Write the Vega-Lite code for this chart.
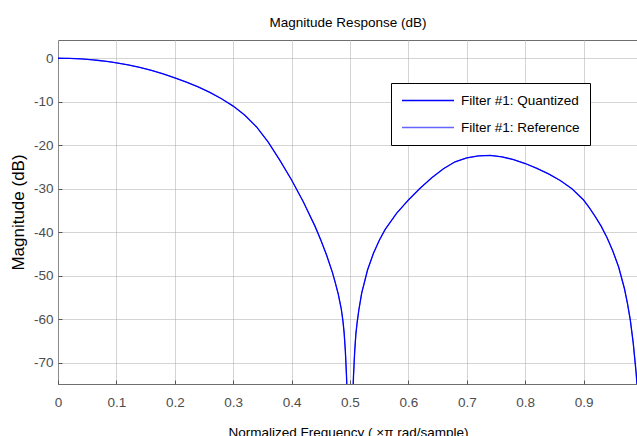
{
  "$schema": "https://vega.github.io/schema/vega-lite/v6.json",
  "width": 580,
  "height": 344,
  "autosize": "none",
  "padding": {"left": 58, "top": 40, "right": 0, "bottom": 52},
  "background": "white",
  "title": {"text": "Magnitude Response (dB)", "font": "Liberation Sans", "fontSize": 13.5, "fontWeight": "normal", "color": "#000000", "offset": 0, "baseline": "alphabetic", "anchor": "middle", "frame": "group"},
  "data": {"values": [
    {"f": 0, "db": 0}, {"f": 0.01, "db": -0.01}, {"f": 0.02, "db": -0.04}, {"f": 0.03, "db": -0.09},
    {"f": 0.04, "db": -0.16}, {"f": 0.05, "db": -0.26}, {"f": 0.06, "db": -0.37}, {"f": 0.07, "db": -0.51},
    {"f": 0.08, "db": -0.67}, {"f": 0.09, "db": -0.85}, {"f": 0.1, "db": -1.05}, {"f": 0.12, "db": -1.52},
    {"f": 0.14, "db": -2.1}, {"f": 0.16, "db": -2.78}, {"f": 0.18, "db": -3.58}, {"f": 0.2, "db": -4.5},
    {"f": 0.22, "db": -5.5}, {"f": 0.24, "db": -6.6}, {"f": 0.26, "db": -7.85}, {"f": 0.28, "db": -9.3},
    {"f": 0.3, "db": -11.0}, {"f": 0.32, "db": -13.1}, {"f": 0.34, "db": -15.8}, {"f": 0.36, "db": -19.3},
    {"f": 0.38, "db": -23.5}, {"f": 0.4, "db": -28.0}, {"f": 0.42, "db": -33.0}, {"f": 0.44, "db": -38.6},
    {"f": 0.45, "db": -41.8}, {"f": 0.46, "db": -45.3}, {"f": 0.47, "db": -49.3}, {"f": 0.475, "db": -51.7},
    {"f": 0.48, "db": -54.3}, {"f": 0.485, "db": -57.6}, {"f": 0.488, "db": -60.5}, {"f": 0.49, "db": -63.2},
    {"f": 0.492, "db": -67.2}, {"f": 0.494, "db": -73.0}, {"f": 0.495, "db": -77.0},
    {"f": 0.505, "db": -77.0}, {"f": 0.506, "db": -73.0}, {"f": 0.508, "db": -67.5}, {"f": 0.51, "db": -63.5},
    {"f": 0.512, "db": -61.0}, {"f": 0.515, "db": -58.0}, {"f": 0.52, "db": -54.0}, {"f": 0.53, "db": -48.7},
    {"f": 0.54, "db": -44.9}, {"f": 0.55, "db": -41.9}, {"f": 0.56, "db": -39.4}, {"f": 0.58, "db": -35.6},
    {"f": 0.6, "db": -32.6}, {"f": 0.62, "db": -29.9}, {"f": 0.64, "db": -27.5}, {"f": 0.66, "db": -25.4},
    {"f": 0.68, "db": -23.8}, {"f": 0.7, "db": -22.9}, {"f": 0.72, "db": -22.45}, {"f": 0.74, "db": -22.35},
    {"f": 0.76, "db": -22.65}, {"f": 0.78, "db": -23.3}, {"f": 0.8, "db": -24.2}, {"f": 0.82, "db": -25.3},
    {"f": 0.84, "db": -26.6}, {"f": 0.86, "db": -28.1}, {"f": 0.88, "db": -30.0}, {"f": 0.9, "db": -32.6},
    {"f": 0.91, "db": -34.4}, {"f": 0.92, "db": -36.4}, {"f": 0.93, "db": -38.6}, {"f": 0.94, "db": -41.2},
    {"f": 0.95, "db": -44.3}, {"f": 0.96, "db": -48.0}, {"f": 0.97, "db": -53.0}, {"f": 0.975, "db": -56.3},
    {"f": 0.98, "db": -60.2}, {"f": 0.985, "db": -65.5}, {"f": 0.99, "db": -72.4}, {"f": 0.993, "db": -78.0}
  ]},
  "encoding": {
    "x": {"field": "f", "type": "quantitative",
      "scale": {"domain": [0, 0.99315], "nice": false, "zero": false},
      "axis": {"values": [0, 0.1, 0.2, 0.3, 0.4, 0.5, 0.6, 0.7, 0.8, 0.9], "format": "~g",
        "title": "Normalized Frequency ( ×π rad/sample)", "titleY": 41, "titleBaseline": "top",
        "titleFont": "Liberation Sans", "titleFontSize": 13.5, "titleFontWeight": "normal", "titleColor": "#000000"}},
    "y": {"field": "db", "type": "quantitative",
      "scale": {"domain": [-74.9, 4.2], "nice": false, "zero": false},
      "axis": {"values": [0, -10, -20, -30, -40, -50, -60, -70], "labelExpr": "'' + datum.value",
        "title": "Magnitude (dB)", "titleX": -40, "titleY": 172, "titleAngle": -90, "titleBaseline": "middle", "titleAlign": "center",
        "titleFont": "Liberation Sans", "titleFontSize": 17, "titleFontWeight": "normal", "titleColor": "#000000"}}
  },
  "layer": [
    {"mark": {"type": "line", "clip": true, "strokeWidth": 1},
     "encoding": {"color": {"datum": "Filter #1: Reference",
       "scale": {"domain": ["Filter #1: Quantized", "Filter #1: Reference"], "range": ["#0000ff", "#6464ff"]},
       "legend": {"orient": "none", "legendX": 333, "legendY": 43, "title": null}}}},
    {"mark": {"type": "line", "clip": true, "strokeWidth": 1.3},
     "encoding": {"color": {"datum": "Filter #1: Quantized",
       "scale": {"domain": ["Filter #1: Quantized", "Filter #1: Reference"], "range": ["#0000ff", "#6464ff"]},
       "legend": {"orient": "none", "legendX": 333, "legendY": 43, "title": null}}}}
  ],
  "config": {
    "view": {"stroke": "#6e6e6e", "strokeWidth": 1},
    "axis": {"grid": true, "gridColor": "#a8a8a8", "gridDash": [1, 1], "gridWidth": 1, "domain": false,
      "ticks": true, "tickSize": -4, "tickColor": "#555555", "tickWidth": 1,
      "labelFont": "Liberation Sans", "labelFontSize": 13.5, "labelColor": "#4d4d4d",
      "labelFlush": false, "labelOverlap": false, "labelBound": false},
    "axisX": {"labelPadding": 15},
    "axisY": {"labelPadding": 9},
    "legend": {"symbolType": "stroke", "symbolSize": 2704, "symbolStrokeWidth": 1.3, "strokeColor": "#000000",
      "fillColor": "#ffffff", "padding": 10, "labelFont": "Liberation Sans", "labelFontSize": 13.5,
      "labelColor": "#000000", "rowPadding": 12, "clipHeight": 15, "labelOffset": 6, "symbolOffset": 0}
  }
}
